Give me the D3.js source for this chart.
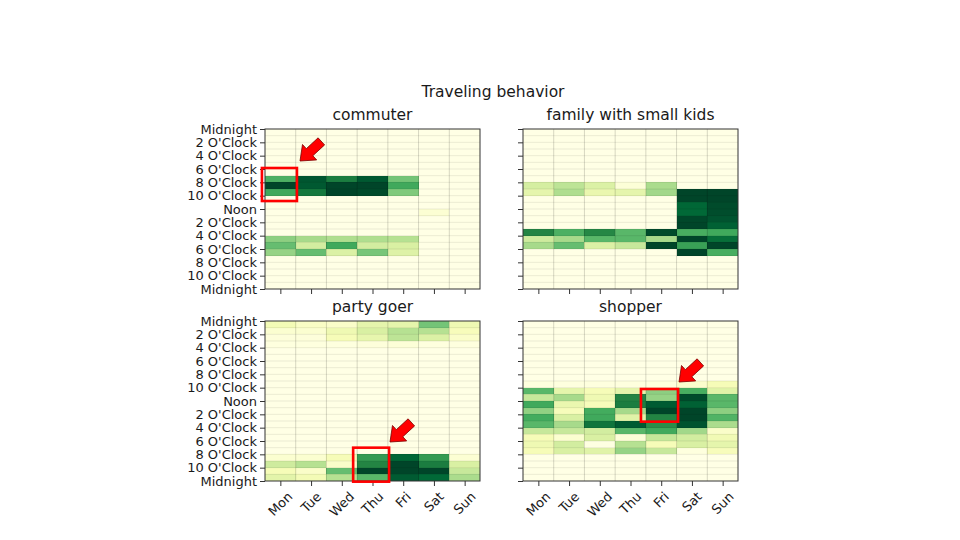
<!DOCTYPE html>
<html>
<head>
<meta charset="utf-8">
<script src="https://cdn.jsdelivr.net/npm/d3@7"></script>
<style>
  html, body { margin: 0; padding: 0; background: #fff; }
  svg { display: block; font-family: "DejaVu Sans", sans-serif; }
</style>
</head>
<body>
<script>
// ---------- data ----------
const days = ["Mon", "Tue", "Wed", "Thu", "Fri", "Sat", "Sun"];
const hourTickLabels = ["Midnight", "2 O'Clock", "4 O'Clock", "6 O'Clock", "8 O'Clock", "10 O'Clock", "Noon",
  "2 O'Clock", "4 O'Clock", "6 O'Clock", "8 O'Clock", "10 O'Clock", "Midnight"];
const suptitle = "Traveling behavior";
const groups = ["commuter", "family with small kids", "party goer", "shopper"];
const Z = [0, 0, 0, 0, 0, 0, 0];

// rows = hour 0..23, columns = Mon..Sun
const commuter = [
  Z, Z, Z, Z, Z, Z, Z,
  [0.60, 0.94, 0.78, 0.93, 0.51, 0, 0],
  [1.00, 0.93, 1.00, 1.00, 0.63, 0, 0],
  [0.63, 0.80, 1.00, 0.98, 0.48, 0, 0],
  Z, Z,
  [0, 0, 0, 0, 0, 0.05, 0],
  Z, Z, Z,
  [0.45, 0.39, 0.37, 0.37, 0.35, 0, 0],
  [0.54, 0.27, 0.63, 0.27, 0.25, 0, 0],
  [0.43, 0.54, 0.24, 0.50, 0.23, 0, 0],
  Z, Z, Z, Z, Z
];
const family = [
  Z, Z, Z, Z, Z, Z, Z, Z,
  [0.26, 0.33, 0.24, 0.04, 0.38, 0, 0],
  [0.20, 0.37, 0.18, 0.20, 0.40, 1.00, 1.00],
  [0, 0, 0, 0, 0, 1.00, 1.00],
  [0, 0, 0, 0, 0, 0.88, 0.98],
  [0, 0, 0, 0, 0, 0.87, 0.97],
  [0, 0, 0, 0, 0, 0.99, 0.95],
  [0, 0, 0, 0, 0, 1.00, 0.90],
  [0.75, 0.60, 0.74, 0.57, 0.98, 0.61, 0.63],
  [0.28, 0.39, 0.57, 0.57, 0.39, 1.00, 0.85],
  [0.39, 0.54, 0.24, 0.30, 1.00, 0.66, 1.00],
  [0, 0, 0, 0, 0, 1.00, 0.61],
  Z, Z, Z, Z, Z
];
const partyGoer = [
  [0.14, 0.09, 0.08, 0.20, 0.20, 0.51, 0.16],
  [0.06, 0.06, 0.16, 0.25, 0.35, 0.35, 0.12],
  [0.03, 0.03, 0.13, 0.19, 0.33, 0.24, 0.08],
  [0.02, 0.02, 0.02, 0.03, 0.04, 0.02, 0.02],
  Z, Z, Z, Z, Z, Z, Z, Z, Z, Z, Z, Z, Z, Z, Z, Z,
  [0.06, 0.06, 0.13, 0.68, 0.88, 0.68, 0.05],
  [0.28, 0.35, 0.08, 0.75, 1.00, 0.78, 0.25],
  [0.13, 0.08, 0.54, 1.00, 1.00, 1.00, 0.30],
  [0.21, 0.14, 0.35, 0.57, 0.92, 0.87, 0.38]
];
const shopper = [
  Z, Z, Z, Z, Z, Z, Z, Z, Z,
  [0.02, 0.02, 0.02, 0.02, 0.02, 0.07, 0.13],
  [0.57, 0.20, 0.13, 0.20, 0.45, 0.61, 0.22],
  [0.30, 0.39, 0.16, 0.75, 0.43, 0.98, 0.57],
  [0.63, 0.18, 0.12, 0.78, 0.92, 0.90, 0.57],
  [0.44, 0.12, 0.62, 0.39, 1.00, 1.00, 0.45],
  [0.62, 0.25, 0.63, 0.22, 0.75, 1.00, 0.59],
  [0.57, 0.39, 0.82, 0.92, 0.72, 0.95, 0.38],
  [0.30, 0.30, 0.27, 0.57, 0.63, 0.40, 0.08],
  [0.13, 0.06, 0.25, 0.04, 0.31, 0.27, 0.15],
  [0.16, 0.27, 0.01, 0.35, 0.13, 0.25, 0.20],
  [0.13, 0.25, 0.22, 0.43, 0.30, 0.02, 0.12],
  Z, Z, Z, Z
];
const seriesData = [commuter, family, partyGoer, shopper];

// annotations (data coords: column units, hour units)
const highlightBoxes = [
  { panel: 0, c0: -0.1, c1: 1.04, h0: 5.85, h1: 10.8 },
  { panel: 2, c0: 2.87, c1: 4.04, h0: 19.0, h1: 24.1 },
  { panel: 3, c0: 3.84, c1: 5.05, h0: 10.2, h1: 15.1 }
];
const arrowTips = [
  { panel: 0, c: 1.14, h: 4.8 },
  { panel: 2, c: 4.07, h: 18.15 },
  { panel: 3, c: 5.08, h: 9.15 }
];

// ---------- layout ----------
const W = 960, H = 540;
const panelW = 215, panelH = 160;
const panelPos = [
  { x: 265, y: 129 }, { x: 523, y: 129 },
  { x: 265, y: 321 }, { x: 523, y: 321 }
];

const ylgn = ["#ffffe5", "#f7fcb9", "#d9f0a3", "#addd8e", "#78c679", "#41ab5d", "#238443", "#006837", "#004529"];
const color = d3.scaleLinear()
  .domain(d3.range(ylgn.length).map(i => i / (ylgn.length - 1)))
  .range(ylgn)
  .interpolate(d3.interpolateRgb)
  .clamp(true);

const svg = d3.select("body").append("svg").attr("width", W).attr("height", H);
svg.append("rect").attr("width", W).attr("height", H).attr("fill", "#fff");

svg.append("text")
  .attr("x", 493).attr("y", 97)
  .attr("text-anchor", "middle")
  .attr("font-size", 15.5).attr("fill", "#1a1a1a")
  .text(suptitle);

const scales = [];

seriesData.forEach((data, p) => {
  const pos = panelPos[p];
  const xs = d3.scaleLinear().domain([0, days.length]).range([pos.x, pos.x + panelW]);
  const ys = d3.scaleLinear().domain([0, 24]).range([pos.y, pos.y + panelH]);
  scales.push({ xs, ys });
  const g = svg.append("g");

  const cells = [];
  data.forEach((row, h) => row.forEach((v, c) => cells.push({ h, c, v })));

  g.selectAll("rect.cell").data(cells).join("rect")
    .attr("class", "cell")
    .attr("x", d => xs(d.c))
    .attr("y", d => ys(d.h))
    .attr("width", d => xs(d.c + 1) - xs(d.c))
    .attr("height", d => ys(d.h + 1) - ys(d.h))
    .attr("fill", d => color(d.v))
    .attr("shape-rendering", "crispEdges");

  // cell edges
  g.selectAll("line.hgrid").data(d3.range(1, 24)).join("line")
    .attr("x1", xs(0)).attr("x2", xs(7))
    .attr("y1", d => ys(d)).attr("y2", d => ys(d))
    .attr("stroke", "#000").attr("stroke-opacity", 0.09).attr("stroke-width", 0.9);
  g.selectAll("line.vgrid").data(d3.range(1, 7)).join("line")
    .attr("y1", ys(0)).attr("y2", ys(24))
    .attr("x1", d => xs(d)).attr("x2", d => xs(d))
    .attr("stroke", "#000").attr("stroke-opacity", 0.16).attr("stroke-width", 1);

  // frame
  g.append("rect")
    .attr("x", xs(0)).attr("y", ys(0))
    .attr("width", xs(7) - xs(0)).attr("height", ys(24) - ys(0))
    .attr("fill", "none").attr("stroke", "#333").attr("stroke-width", 1);

  // title
  svg.append("text")
    .attr("x", (xs(0) + xs(7)) / 2).attr("y", pos.y - 9)
    .attr("text-anchor", "middle")
    .attr("font-size", 15.5).attr("fill", "#1a1a1a")
    .text(groups[p]);

  // y axis
  const isLeft = p % 2 === 0;
  const yAxis = d3.axisLeft(ys)
    .tickValues(d3.range(0, 25, 2))
    .tickSize(5).tickPadding(3)
    .tickFormat(d => isLeft ? hourTickLabels[d / 2] : "");
  const ya = svg.append("g").attr("transform", `translate(${xs(0)},0)`).call(yAxis);
  ya.select(".domain").remove();
  ya.selectAll("line").attr("stroke", "#333");
  ya.selectAll("text").attr("font-size", 13).attr("fill", "#1a1a1a").attr("font-family", "DejaVu Sans");

  // x axis
  const isBottom = p >= 2;
  const xAxis = d3.axisBottom(xs)
    .tickValues(d3.range(days.length).map(i => i + 0.5))
    .tickSize(5)
    .tickFormat("");
  const xa = svg.append("g").attr("transform", `translate(0,${ys(24)})`).call(xAxis);
  xa.select(".domain").remove();
  xa.selectAll("line").attr("stroke", "#333");

  if (isBottom) {
    days.forEach((d, i) => {
      const t = svg.append("text")
        .attr("font-size", 13).attr("fill", "#1a1a1a")
        .attr("text-anchor", "middle")
        .attr("dominant-baseline", "central")
        .text(d);
      const w = t.node().getComputedTextLength();
      const side = (w + 15) * Math.SQRT1_2;
      const cx = xs(i + 0.5);
      const cy = ys(24) + 8 + side / 2;
      t.attr("transform", `translate(${cx},${cy}) rotate(-45)`);
    });
  }
});

// ---------- annotations ----------
highlightBoxes.forEach(b => {
  const { xs, ys } = scales[b.panel];
  svg.append("rect")
    .attr("x", xs(b.c0)).attr("y", ys(b.h0))
    .attr("width", xs(b.c1) - xs(b.c0)).attr("height", ys(b.h1) - ys(b.h0))
    .attr("fill", "none").attr("stroke", "#ff0000").attr("stroke-width", 2.6);
});

arrowTips.forEach(a => {
  const { xs, ys } = scales[a.panel];
  const tx = xs(a.c), ty = ys(a.h);
  // direction from tip towards tail (up-right)
  const ang = Math.atan2(-18.4, 20);
  const ux = Math.cos(ang), uy = Math.sin(ang);
  const nx = -uy, ny = ux;
  const L = 29, HL = 13, HW = 10.5, SW = 4.8;
  const bx = tx + ux * HL, by = ty + uy * HL;
  const ex = tx + ux * L, ey = ty + uy * L;
  const pts = [
    [tx, ty],
    [bx + nx * HW, by + ny * HW],
    [bx + nx * SW, by + ny * SW],
    [ex + nx * SW, ey + ny * SW],
    [ex - nx * SW, ey - ny * SW],
    [bx - nx * SW, by - ny * SW],
    [bx - nx * HW, by - ny * HW]
  ];
  svg.append("path")
    .attr("d", d3.line()(pts) + "Z")
    .attr("fill", "#ff0000")
    .attr("stroke", "#7a0000").attr("stroke-width", 0.8)
    .attr("stroke-linejoin", "miter");
});
</script>
</body>
</html>
